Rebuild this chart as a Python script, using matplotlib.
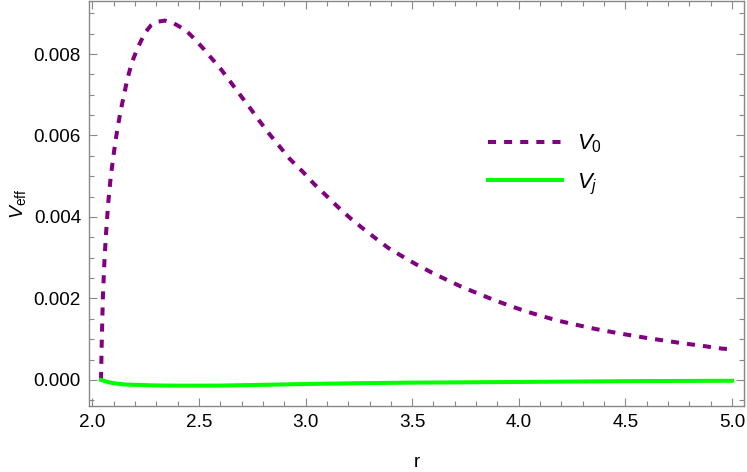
import matplotlib
matplotlib.use("Agg")
import matplotlib.pyplot as plt
from matplotlib.ticker import MultipleLocator, FormatStrFormatter

r_v0 = [2.041, 2.044, 2.047, 2.050, 2.056, 2.064, 2.075, 2.086, 2.098, 2.110, 2.122, 2.135,
        2.164, 2.185, 2.213, 2.247, 2.275, 2.302, 2.341, 2.380, 2.410, 2.443, 2.470, 2.497, 2.525,
        2.552, 2.600, 2.646, 2.690, 2.739, 2.785, 2.833, 2.880, 2.927, 2.989, 3.040, 3.096, 3.153,
        3.210, 3.271, 3.330, 3.388, 3.455, 3.521, 3.590, 3.661, 3.730, 3.800, 3.880, 3.958,
        4.030, 4.100, 4.180, 4.255, 4.360, 4.474, 4.600, 4.755, 4.870, 4.951, 5.0]
v0 = [0.0, 0.00080, 0.00145, 0.00205, 0.00280, 0.00355, 0.00435, 0.00495, 0.00545, 0.00590,
      0.00628, 0.00665, 0.00737, 0.00778, 0.00815, 0.00852, 0.00870, 0.00879, 0.00882, 0.00876,
      0.00867, 0.00856, 0.00842, 0.00827, 0.00811, 0.00794, 0.00765, 0.00733, 0.00702, 0.00668,
      0.00635, 0.00602, 0.00572, 0.00542, 0.00510, 0.00481, 0.00453, 0.00424, 0.00397, 0.00371,
      0.00347, 0.00324, 0.00303, 0.00283, 0.00264, 0.00246, 0.00229, 0.00214, 0.00197, 0.00182,
      0.00169, 0.00158, 0.00146, 0.00137, 0.00125, 0.00114, 0.00103, 0.00091, 0.00083, 0.00077,
      0.00075]

r_vj = [2.041, 2.06, 2.08, 2.10, 2.15, 2.2, 2.3, 2.4, 2.5, 2.6, 2.8, 3.0, 3.25, 3.5, 4.0, 4.5, 5.0]
vj = [0.0, -0.00003, -0.00006, -0.00008, -0.00011, -0.00012, -0.000135, -0.00014, -0.00014,
      -0.000138, -0.00012, -0.0001, -0.00008, -0.000066, -0.00005, -0.00003, -0.00002]

plt.rcParams['font.family'] = ['Liberation Sans', 'DejaVu Sans']
plt.rcParams['mathtext.fontset'] = 'custom'
plt.rcParams['mathtext.it'] = 'Liberation Sans:italic'
plt.rcParams['mathtext.rm'] = 'Liberation Sans'

fig = plt.figure(figsize=(7.47, 4.72), dpi=100)
ax = fig.add_axes([0.1195, 0.1398, 0.8765, 0.858])

ax.plot(r_v0, v0, color='#800080', lw=2.9, dashes=(2, 2), dash_capstyle='butt', label='$V_0$')
ax.plot(r_vj, vj, color='#00ff00', lw=2.9, label='$V_j$')

ax.set_xlim(1.986, 5.056)
ax.set_ylim(-0.00064, 0.00930)
ax.xaxis.set_major_locator(MultipleLocator(0.5))
ax.xaxis.set_minor_locator(MultipleLocator(0.1))
ax.yaxis.set_major_locator(MultipleLocator(0.002))
ax.yaxis.set_minor_locator(MultipleLocator(0.0005))
ax.xaxis.set_major_formatter(FormatStrFormatter('%.1f'))
ax.yaxis.set_major_formatter(FormatStrFormatter('%.3f'))

for s in ax.spines.values():
    s.set_color('#888888')
    s.set_linewidth(1.0)
ax.tick_params(which='both', direction='in', top=True, right=True, color='#888888',
               labelsize=13.6, labelcolor='black', width=0.8)
ax.tick_params(which='major', length=6, pad=6)
ax.tick_params(which='minor', length=3.5)

ax.set_xlabel('r', fontsize=13.6, labelpad=16)
ax.set_ylabel(r'$V_{\mathrm{eff}}$', fontsize=14, labelpad=4)

leg = ax.legend(loc='center left', bbox_to_anchor=(0.579, 0.596), frameon=False, fontsize=16,
                handlelength=3.3, handletextpad=0.7, labelspacing=0.75)

fig.savefig('out.png', dpi=100)
